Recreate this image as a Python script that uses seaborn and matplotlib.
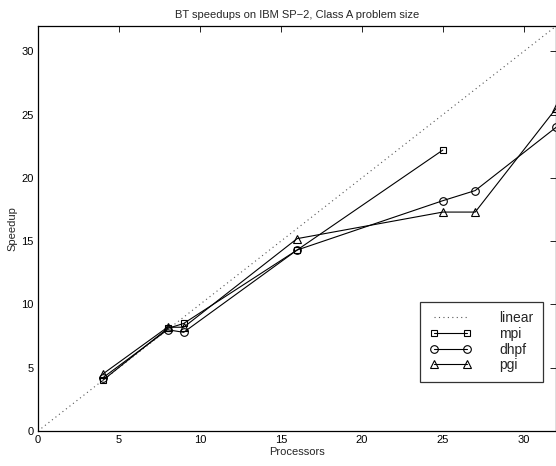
import matplotlib
matplotlib.use("Agg")
import matplotlib.pyplot as plt
import seaborn as sns
import pandas as pd

# Processor counts and measured speedups
linear_procs = [0, 32]
linear_speedup = [0, 32]

mpi_procs = [4, 8, 9, 16, 25]
mpi_speedup = [4.0, 8.1, 8.5, 14.3, 22.2]

dhpf_procs = [4, 8, 9, 16, 25, 27, 32]
dhpf_speedup = [4.2, 8.0, 7.8, 14.3, 18.2, 19.0, 24.0]

pgi_procs = [4, 8, 9, 16, 25, 27, 32]
pgi_speedup = [4.5, 8.2, 8.2, 15.2, 17.3, 17.3, 25.5]

x_ticks = [0, 5, 10, 15, 20, 25, 30]
y_ticks = [0, 5, 10, 15, 20, 25, 30]

sns.set_style("white")
plt.rcParams["font.family"] = ["Liberation Sans", "DejaVu Sans"]

fig = plt.figure(figsize=(5.56, 4.66), dpi=100)
ax = fig.add_axes([0.0683, 0.0751, 0.932, 0.869])

sns.lineplot(x=linear_procs, y=linear_speedup, ax=ax, color="#555555",
             linestyle=(0, (1, 3)), linewidth=0.8, label="linear")

series = [
    ("mpi", mpi_procs, mpi_speedup, "s", 4.5),
    ("dhpf", dhpf_procs, dhpf_speedup, "o", 5.5),
    ("pgi", pgi_procs, pgi_speedup, "^", 6),
]
for name, xs, ys, mk, ms in series:
    df = pd.DataFrame({"Processors": xs, "Speedup": ys})
    sns.lineplot(data=df, x="Processors", y="Speedup", ax=ax, color="black",
                 linewidth=0.8, marker=mk, markersize=ms,
                 markerfacecolor="none", markeredgecolor="black",
                 markeredgewidth=0.8, label=name)

ax.set_xlim(0, 32)
ax.set_ylim(0, 32)
ax.set_xticks(x_ticks)
ax.set_yticks(y_ticks)
ax.tick_params(direction="in", length=4.5, width=0.6, top=True, right=True,
               labelsize=8, colors="black", pad=3)
for sp in ax.spines.values():
    sp.set_visible(True)
    sp.set_color("black")
    sp.set_linewidth(0.9)

ax.set_xlabel("Processors", fontsize=8, labelpad=1)
ax.set_ylabel("Speedup", fontsize=8, labelpad=3)
ax.set_title("BT speedups on IBM SP\u22122, Class A problem size", fontsize=8, pad=6)

leg = ax.legend(loc="lower right", bbox_to_anchor=(0.975, 0.121), numpoints=2,
                fontsize=10, frameon=True, fancybox=False, handlelength=3.0,
                borderpad=0.7, labelspacing=0.12, handletextpad=2.0,
                borderaxespad=0)
leg.get_frame().set_edgecolor("black")
leg.get_frame().set_linewidth(0.9)

fig.savefig("out.png", dpi=100, facecolor="white")
